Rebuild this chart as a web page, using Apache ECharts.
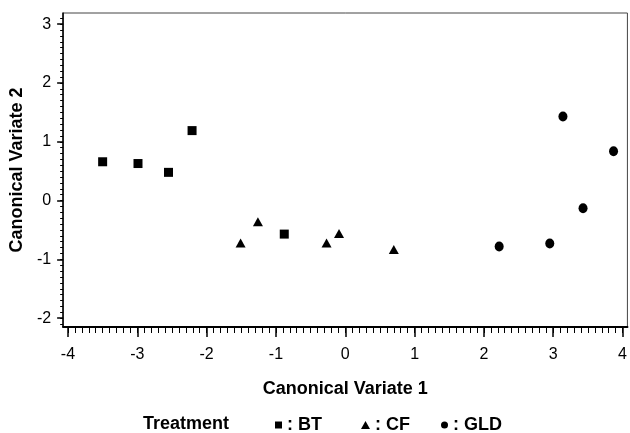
<!DOCTYPE html>
<html>
<head>
<meta charset="utf-8">
<script src="https://cdn.jsdelivr.net/npm/echarts@6/dist/echarts.min.js"></script>
<style>
  html, body { margin: 0; padding: 0; background: #fff; }
  #chart { width: 630px; height: 433px; }
</style>
</head>
<body>
<div id="chart"></div>
<script>
// canonical variate scores per treatment, [cv1, cv2]
const btPoints = [[-3.50, 0.66], [-2.99, 0.63], [-2.55, 0.48], [-2.21, 1.19], [-0.88, -0.57]];
const cfPoints = [[-1.51, -0.72], [-1.26, -0.36], [-0.27, -0.72], [-0.09, -0.56], [0.70, -0.83]];
const gldPoints = [[2.22, -0.78], [2.95, -0.73], [3.14, 1.43], [3.43, -0.13], [3.87, 0.84]];

const xTicks = [-4, -3, -2, -1, 0, 1, 2, 3, 4];
const yTicks = [-2, -1, 0, 1, 2, 3];

const xMin = -4.07, xMax = 4.07;
const yMin = -2.15, yMax = 3.19;

// minor ticks every 0.1
const minorTicks = (lo, hi) => {
  const out = [];
  for (let i = Math.ceil(lo * 10); i <= Math.floor(hi * 10); i++) out.push(i / 10);
  return out;
};

const font = 'Liberation Sans, Arial, Helvetica, sans-serif';

const legendItem = (name, icon, left, w, h) => ({
  left: left, top: 416, padding: 0, itemWidth: w, itemHeight: h,
  formatter: n => ' : ' + n,
  textStyle: { fontFamily: font, fontSize: 18, fontWeight: 'bold', color: '#000', padding: [0, 0, 0, -5] },
  data: [{ name: name, icon: icon }]
});

const myChart = echarts.init(document.getElementById('chart'));

const option = {
  animation: false,
  grid: {
    left: 62, right: 2, top: 13, bottom: 106,
    show: true, borderColor: '#444', borderWidth: 1
  },
  xAxis: [
    {
      type: 'value', min: xMin, max: xMax, position: 'bottom',
      name: 'Canonical Variate 1', nameLocation: 'middle', nameGap: 53,
      nameTextStyle: { fontFamily: font, fontSize: 18, fontWeight: 'bold', color: '#000' },
      axisLine: { show: true, onZero: false, lineStyle: { color: '#000', width: 2 } },
      axisTick: { show: true, customValues: xTicks, length: 10, lineStyle: { color: '#000', width: 1.5 } },
      axisLabel: { customValues: xTicks, margin: 20, fontFamily: font, fontSize: 16, color: '#000' },
      splitLine: { show: false }
    },
    {
      type: 'value', min: xMin, max: xMax, position: 'bottom',
      axisLine: { show: false, onZero: false },
      axisTick: { show: true, customValues: minorTicks(-4, 4), length: 6, lineStyle: { color: '#000', width: 1 } },
      axisLabel: { show: false },
      splitLine: { show: false }
    }
  ],
  yAxis: [
    {
      type: 'value', min: yMin, max: yMax, position: 'left',
      name: 'Canonical Variate 2', nameLocation: 'middle', nameGap: 36,
      nameTextStyle: { fontFamily: font, fontSize: 18, fontWeight: 'bold', color: '#000' },
      axisLine: { show: true, onZero: false, lineStyle: { color: '#000', width: 1.5 } },
      axisTick: { show: true, customValues: yTicks, length: 6, lineStyle: { color: '#000', width: 1.5 } },
      axisLabel: { customValues: yTicks, margin: 12, fontFamily: font, fontSize: 16, color: '#000' },
      splitLine: { show: false }
    },
    {
      type: 'value', min: yMin, max: yMax, position: 'left',
      axisLine: { show: false, onZero: false },
      axisTick: { show: true, customValues: minorTicks(-2.1, 3.1), length: 3, lineStyle: { color: '#000', width: 1 } },
      axisLabel: { show: false },
      splitLine: { show: false }
    }
  ],
  legend: [
    legendItem('BT', 'rect', 275, 7, 7),
    legendItem('CF', 'triangle', 361, 9, 8),
    legendItem('GLD', 'circle', 441, 7, 8)
  ],
  graphic: [
    {
      type: 'text', left: 143, top: 415,
      style: { text: 'Treatment', font: 'bold 18px ' + font, fill: '#000' }
    }
  ],
  series: [
    { name: 'BT', type: 'scatter', symbol: 'rect', symbolSize: 9, data: btPoints, itemStyle: { color: '#000', opacity: 1 } },
    { name: 'CF', type: 'scatter', symbol: 'triangle', symbolSize: [10, 9], data: cfPoints, itemStyle: { color: '#000', opacity: 1 } },
    { name: 'GLD', type: 'scatter', symbol: 'circle', symbolSize: [9, 10], data: gldPoints, itemStyle: { color: '#000', opacity: 1 } }
  ]
};

option && myChart.setOption(option);
</script>
</body>
</html>
